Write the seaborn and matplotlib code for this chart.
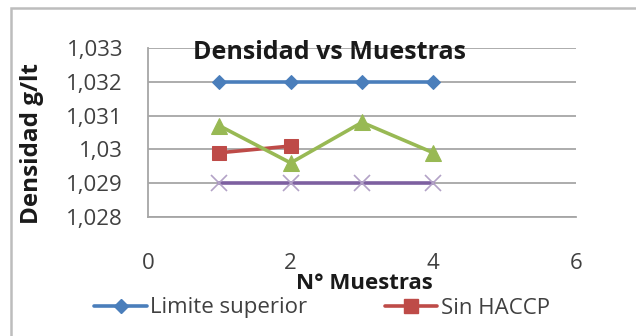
import matplotlib
matplotlib.use("Agg")
import matplotlib.pyplot as plt
import matplotlib.ticker as mticker
from matplotlib.lines import Line2D
from matplotlib.patches import Rectangle
import seaborn as sns
import pandas as pd

# Muestras y densidades (g/lt)
muestras = [1, 2, 3, 4]
limite_superior = [1.032, 1.032, 1.032, 1.032]
sin_haccp_x = [1, 2]
sin_haccp = [1.0299, 1.0301]
con_haccp = [1.0307, 1.0296, 1.0308, 1.0299]
limite_inferior = [1.029, 1.029, 1.029, 1.029]

y_ticks = [1.028, 1.029, 1.030, 1.031, 1.032, 1.033]
y_tick_labels = ["1,028", "1,029", "1,03", "1,031", "1,032", "1,033"]
x_ticks = [0, 2, 4, 6]

sns.set_theme(style="white")
plt.rcParams["font.family"] = ["Open Sans", "DejaVu Sans"]

fig = plt.figure(figsize=(6.36, 3.36), dpi=100)
ax = fig.add_axes([148 / 636, 1 - 217 / 336, (576 - 148) / 636, (217 - 48) / 336])

# Outer chart frame (only top and left edges fall inside the image)
fig.patches.append(Rectangle((11 / 636, -0.1), 1.5, 1 - 8 / 336 + 0.1,
                             transform=fig.transFigure, fill=False,
                             edgecolor="#BDBDBD", linewidth=1.8, zorder=0))

azul, rojo, verde, morado = "#4A7EBB", "#BE4B48", "#98B954", "#7D60A0"

df_sup = pd.DataFrame({"x": muestras, "y": limite_superior})
df_sin = pd.DataFrame({"x": sin_haccp_x, "y": sin_haccp})
df_con = pd.DataFrame({"x": muestras, "y": con_haccp})
df_inf = pd.DataFrame({"x": muestras, "y": limite_inferior})

sns.lineplot(data=df_inf, x="x", y="y", ax=ax, color=morado, linewidth=2.6,
             marker="x", markersize=11, markeredgecolor="#B3A2C7",
             markeredgewidth=1.2, zorder=3)
sns.lineplot(data=df_sup, x="x", y="y", ax=ax, color=azul, linewidth=2.6,
             marker="D", markersize=7.5, markeredgecolor=azul, zorder=4)
sns.lineplot(data=df_sin, x="x", y="y", ax=ax, color=rojo, linewidth=2.6,
             marker="s", markersize=10, markeredgecolor=rojo, zorder=4)
sns.lineplot(data=df_con, x="x", y="y", ax=ax, color=verde, linewidth=2.6,
             marker="^", markersize=11, markeredgecolor=verde, zorder=5)

ax.set_xlim(0, 6)
ax.set_ylim(1.028, 1.033)
ax.set_xticks(x_ticks)
ax.set_yticks(y_ticks)
ax.yaxis.set_major_formatter(mticker.FixedFormatter(y_tick_labels))
ax.grid(axis="y", color="#A6A6A6", linewidth=1.3)
ax.grid(axis="x", visible=False)
for side in ["top", "right"]:
    ax.spines[side].set_visible(False)
for side in ["left", "bottom"]:
    ax.spines[side].set_color("#A6A6A6")
    ax.spines[side].set_linewidth(1.3)
ax.tick_params(axis="both", width=1.3, color="#A6A6A6",
               labelsize=16, labelcolor="#404040", direction="out")
ax.tick_params(axis="x", length=4, pad=22)
ax.tick_params(axis="y", length=7, pad=11)

ax.set_xlabel("N° Muestras", fontsize=16, fontweight="bold", color="#1a1a1a")
ax.xaxis.label.set_verticalalignment("center")
ax.xaxis.set_label_coords(0.505, -0.395)
ax.set_ylabel("Densidad g/lt", fontsize=17.5, fontweight="bold", color="#1a1a1a")
ax.yaxis.label.set_verticalalignment("center")
ax.yaxis.set_label_coords(-0.271, 0.432)
ax.text(0.425, 0.976, "Densidad vs Muestras", transform=ax.transAxes,
        ha="center", va="center", fontsize=18, fontweight="bold",
        color="#1a1a1a", zorder=6)

handles = [
    Line2D([], [], color=azul, linewidth=2.6, marker="D", markersize=7.5),
    Line2D([], [], color=rojo, linewidth=2.6, marker="s", markersize=10),
]
fig.legend(handles, ["Limite superior", "Sin HACCP"], loc="center",
           bbox_to_anchor=(322 / 636, 1 - 308 / 336), ncol=2, frameon=False,
           fontsize=16, handlelength=2.35, columnspacing=3.5,
           handletextpad=0.15, labelcolor="#404040")

fig.savefig("out.png", dpi=100)
